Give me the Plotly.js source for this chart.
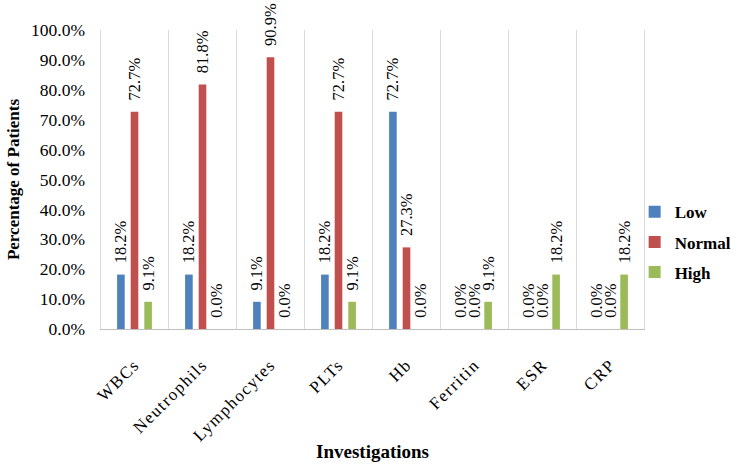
<!DOCTYPE html>
<html>
<head>
<meta charset="utf-8">
<script src="https://cdn.plot.ly/plotly-3.0.1.min.js"></script>
<style>
  html, body { margin: 0; padding: 0; background: #fff; }
  #chart { width: 750px; height: 473px; }
  /* slightly spaced category labels */
  #chart .xtick text { letter-spacing: 1.5px; }
</style>
</head>
<body>
<div id="chart"></div>
<script>
// Investigation categories along the x axis
const investigations = ["WBCs", "Neutrophils", "Lymphocytes", "PLTs", "Hb", "Ferritin", "ESR", "CRP"];

// Share of patients in each range (percent)
const lowPct    = [18.2, 18.2, 9.1, 18.2, 72.7, 0.0, 0.0, 0.0];
const normalPct = [72.7, 81.8, 90.9, 72.7, 27.3, 0.0, 0.0, 0.0];
const highPct   = [9.1, 0.0, 0.0, 9.1, 0.0, 9.1, 18.2, 18.2];

const seriesNames = ["Low", "Normal", "High"];
const seriesColors = ["#4F81BD", "#C0504D", "#9BBB59"];

const serif = "Liberation Serif, Times New Roman, serif";

function barTrace(name, values, color) {
  return {
    type: "bar",
    name: name,
    legendgroup: name,
    x: investigations,
    y: values.map(v => v / 100),
    text: values.map(v => "\u00a0\u00a0" + v.toFixed(1) + "%"),
    textposition: "outside",
    textangle: -90,
    constraintext: "none",
    cliponaxis: false,
    textfont: { family: serif, size: 16.5, color: "#000" },
    marker: { color: color },
    hoverinfo: "skip"
  };
}

const data = [
  barTrace(seriesNames[0], lowPct, seriesColors[0]),
  barTrace(seriesNames[1], normalPct, seriesColors[1]),
  barTrace(seriesNames[2], highPct, seriesColors[2])
];

// vertical separators between categories
const separators = [];
for (let i = 0; i <= investigations.length; i++) {
  separators.push({
    type: "line",
    xref: "x", yref: "paper",
    x0: i - 0.5, x1: i - 0.5, y0: 0, y1: 1,
    line: { color: "#D9D9D9", width: 1 },
    layer: "below"
  });
}

const layout = {
  width: 750,
  height: 473,
  margin: { l: 100, r: 105, t: 30, b: 144 },
  paper_bgcolor: "#fff",
  plot_bgcolor: "#fff",
  barmode: "group",
  bargap: 0.4,
  bargroupgap: 0.44,
  showlegend: true,
  legend: {
    x: 0.981, xanchor: "left",
    y: 0.29, yanchor: "middle",
    bgcolor: "rgba(0,0,0,0)",
    font: { family: serif, size: 17, color: "#000", weight: "bold" },
    itemwidth: 30,
    traceorder: "grouped",
    tracegroupgap: 5
  },
  xaxis: {
    tickangle: -45,
    tickfont: { family: serif, size: 17, color: "#000" },
    showgrid: false,
    showline: true,
    linecolor: "#BFBFBF",
    linewidth: 1,
    ticks: "",
    ticklabelstandoff: 18,
    title: {
      text: "Investigations",
      font: { family: serif, size: 19, color: "#000", weight: "bold" },
      standoff: 12
    }
  },
  yaxis: {
    range: [0, 1],
    dtick: 0.1,
    tickformat: ".1%",
    tickfont: { family: serif, size: 17.5, color: "#000" },
    showgrid: false,
    zeroline: false,
    showline: false,
    ticks: "",
    ticklabelstandoff: 14,
    title: {
      text: "Percentage of Patients",
      font: { family: serif, size: 17, color: "#000", weight: "bold" },
      standoff: 7
    }
  },
  shapes: separators
};

Plotly.newPlot("chart", data, layout, { staticPlot: true, displayModeBar: false });
</script>
</body>
</html>
